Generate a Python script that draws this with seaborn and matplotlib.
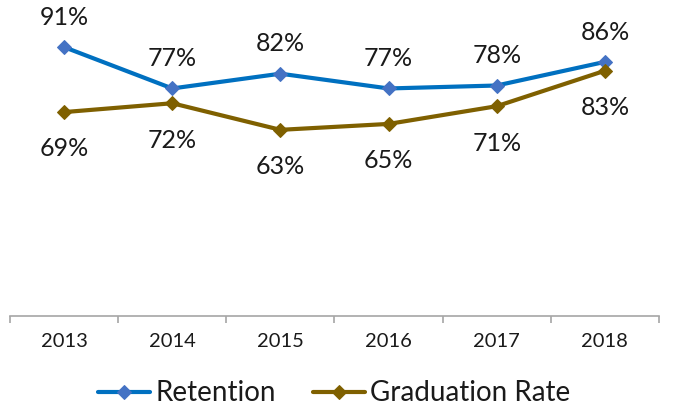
import numpy as np
import matplotlib
matplotlib.use("Agg")
import matplotlib.pyplot as plt
import seaborn as sns

# Daten
years = ["2013", "2014", "2015", "2016", "2017", "2018"]
retention = [91, 77, 82, 77, 78, 86]
graduation = [69, 72, 63, 65, 71, 83]

sns.set_style("white")
plt.rcParams["font.family"] = ["Lato", "DejaVu Sans"]

blue_line = "#0070C0"
blue_marker = "#4472C4"
brown = "#7F6000"
text_col = "#1a1a1a"

fig = plt.figure(figsize=(6.73, 4.09), dpi=100)
ax = fig.add_axes([10 / 673, 93 / 409, 649 / 673, (316 - 20.5) / 409])

x = np.arange(len(years))
sns.lineplot(x=x, y=retention, ax=ax, color=blue_line, linewidth=3, marker="D",
             markersize=7, markerfacecolor=blue_marker, markeredgecolor=blue_marker,
             label="Retention")
sns.lineplot(x=x, y=graduation, ax=ax, color=brown, linewidth=3, marker="D",
             markersize=7, markerfacecolor=brown, markeredgecolor=brown,
             label="Graduation Rate")

# Datenbeschriftungen
for xi, v in zip(x, retention):
    ax.annotate(f"{v}%", (xi, v), xytext=(0, 21.5), textcoords="offset points",
                ha="center", va="center", fontsize=18, color=text_col)
for xi, v in zip(x, graduation):
    ax.annotate(f"{v}%", (xi, v), xytext=(0, -26.5), textcoords="offset points",
                ha="center", va="center", fontsize=18, color=text_col)

ax.set_xlim(-0.5, len(years) - 0.5)
ax.set_ylim(0, 100)
ax.set_yticks([])
ax.set_xticks(x)
ax.set_xticklabels(years, fontsize=14.5, color=text_col)
ax.set_xticks(np.arange(-0.5, len(years)), minor=True)
ax.tick_params(axis="x", which="major", length=0, pad=12)
ax.tick_params(axis="x", which="minor", length=5, width=1.2, color="#a6a6a6",
               direction="out", bottom=True)

for s in ["top", "left", "right"]:
    ax.spines[s].set_visible(False)
ax.spines["bottom"].set_color("#a6a6a6")
ax.spines["bottom"].set_linewidth(1.2)

ax.legend(loc="center", bbox_to_anchor=(0.5, -0.262), ncol=2, frameon=False,
          fontsize=20, handlelength=1.85, handletextpad=0.2, columnspacing=1.35,
          labelcolor=text_col)

fig.savefig("out.png", dpi=100)
plt.close(fig)
